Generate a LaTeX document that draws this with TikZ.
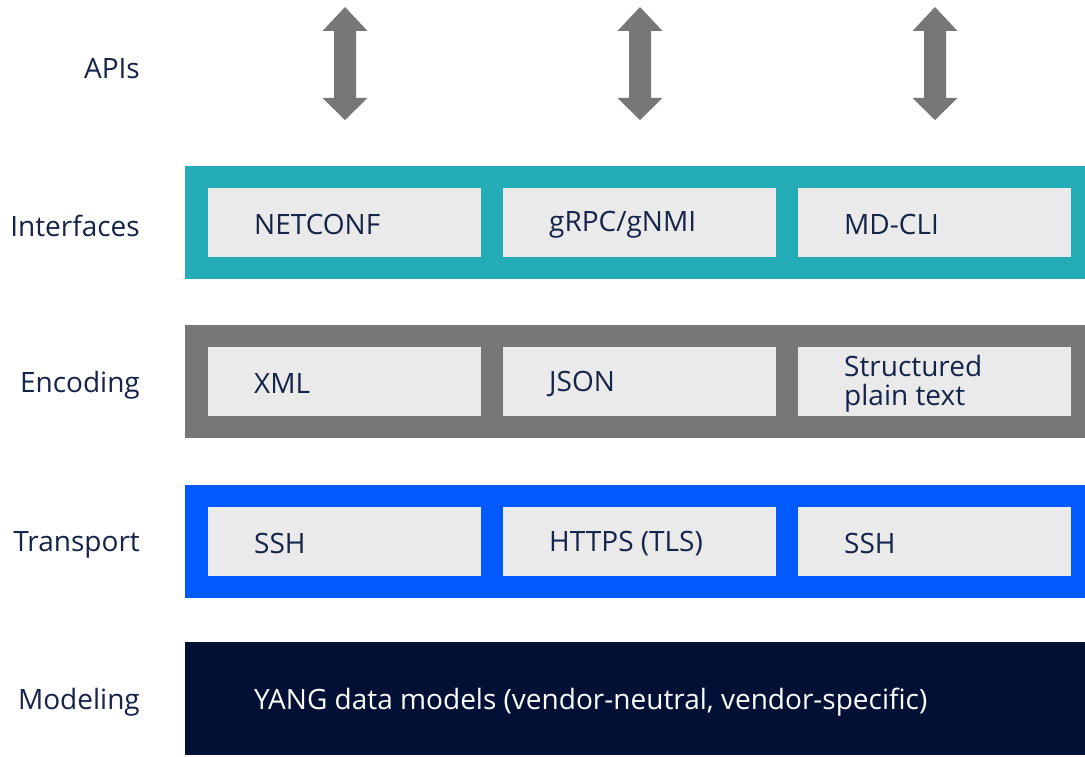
\documentclass[tikz,border=0pt]{standalone}
\usepackage{fontspec}
\setmainfont{Open Sans}
\definecolor{txt}{HTML}{15244A}
\definecolor{teal}{HTML}{23ABB6}
\definecolor{midgrey}{HTML}{777777}
\definecolor{brblue}{HTML}{005AFF}
\definecolor{navy}{HTML}{001135}
\definecolor{inner}{HTML}{EAEAEA}
\tikzset{
  band/.style={draw=none, inner sep=0pt, minimum width=900pt, minimum height=113pt, anchor=north west},
  cell/.style={fill=inner, draw=none, inner sep=0pt, minimum width=273pt, minimum height=69pt, anchor=north west},
  celltext/.style={anchor=west, text=txt, font=\fontsize{28}{29}\selectfont, align=left, inner sep=0pt, yshift=-2pt},
  rowlabel/.style={anchor=east, text=txt, font=\fontsize{28}{29}\selectfont, inner sep=0pt, yshift=-2pt},
}
\newcommand{\dblarrow}[2]{%
  \fill[midgrey] (#1,7) -- (#1+22.5,31) -- (#1+11,31) -- (#1+11,98) -- (#1+22.5,98) -- (#1,120) -- (#1-22.5,98) -- (#1-11,98) -- (#1-11,31) -- (#1-22.5,31) -- cycle;
  \coordinate (#2) at (#1,64);}
\begin{document}
\begin{tikzpicture}[x=1pt,y=-1pt]
\useasboundingbox[fill=white] (0,0) rectangle (1085,757);
% arrows
\dblarrow{345}{a1}
\dblarrow{640}{a2}
\dblarrow{935}{a3}
% row labels
\node[rowlabel] (lapi) at (140,67) {APIs};
\node[rowlabel] (lint) at (140,224) {Interfaces};
\node[rowlabel] (lenc) at (140,383) {Encoding};
\node[rowlabel] (ltra) at (140,543) {Transport};
\node[rowlabel] (lmod) at (140,700) {Modeling};
% bands
\node[band, fill=teal] (bint) at (185,166) {};
\node[band, fill=midgrey] (benc) at (185,325) {};
\node[band, fill=brblue] (btra) at (185,485) {};
\node[band, fill=navy] (bmod) at (185,642) {};
% interface cells
\node[cell] (i1) at (208,188) {};
\node[cell] (i2) at (503,188) {};
\node[cell] (i3) at (798,188) {};
\node[celltext] at ([xshift=46pt]i1.west) {NETCONF};
\node[celltext] at ([xshift=46pt]i2.west) {gRPC/gNMI};
\node[celltext] at ([xshift=46pt]i3.west) {MD-CLI};
% encoding cells
\node[cell] (e1) at (208,347) {};
\node[cell] (e2) at (503,347) {};
\node[cell] (e3) at (798,347) {};
\node[celltext] at ([xshift=46pt]e1.west) {XML};
\node[celltext] at ([xshift=46pt]e2.west) {JSON};
\node[celltext] at ([xshift=46pt]e3.west) {Structured\\plain text};
% transport cells
\node[cell] (t1) at (208,507) {};
\node[cell] (t2) at (503,507) {};
\node[cell] (t3) at (798,507) {};
\node[celltext] at ([xshift=46pt]t1.west) {SSH};
\node[celltext] at ([xshift=46pt]t2.west) {HTTPS (TLS)};
\node[celltext] at ([xshift=46pt]t3.west) {SSH};
% modeling
\node[celltext, text=white] (ym) at (254,700) {YANG data models (vendor-neutral, vendor-specific)};
\end{tikzpicture}
\end{document}
